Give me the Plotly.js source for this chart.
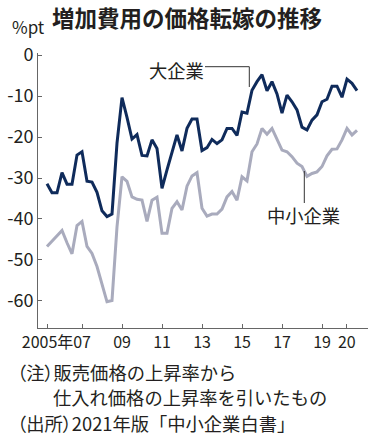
<!DOCTYPE html>
<html>
<head>
<meta charset="utf-8">
<script src="https://cdn.plot.ly/plotly-3.0.1.min.js"></script>
<style>
  html, body { margin: 0; padding: 0; background: #fff; }
  #chart { width: 379px; height: 440px; }
</style>
</head>
<body>
<div id="chart"></div>
<script>
// Quarterly periods (2005Q2 .. 2020Q4)
const periods = [
  "2005Q2","2005Q3","2005Q4",
  "2006Q1","2006Q2","2006Q3","2006Q4",
  "2007Q1","2007Q2","2007Q3","2007Q4",
  "2008Q1","2008Q2","2008Q3","2008Q4",
  "2009Q1","2009Q2","2009Q3","2009Q4",
  "2010Q1","2010Q2","2010Q3","2010Q4",
  "2011Q1","2011Q2","2011Q3","2011Q4",
  "2012Q1","2012Q2","2012Q3","2012Q4",
  "2013Q1","2013Q2","2013Q3","2013Q4",
  "2014Q1","2014Q2","2014Q3","2014Q4",
  "2015Q1","2015Q2","2015Q3","2015Q4",
  "2016Q1","2016Q2","2016Q3","2016Q4",
  "2017Q1","2017Q2","2017Q3","2017Q4",
  "2018Q1","2018Q2","2018Q3","2018Q4",
  "2019Q1","2019Q2","2019Q3","2019Q4",
  "2020Q1","2020Q2","2020Q3","2020Q4"
];

// 大企業 (%pt)
const largeFirms = [
  -31.4, -33.6, -33.6, -28.7, -31.5, -31.5, -24.4, -23.6, -30.8, -31.0,
  -33.5, -38.0, -39.4, -38.8, -21.5, -10.4, -15.2, -20.5, -19.4, -24.5,
  -24.6, -20.7, -22.8, -32.5, -28.0, -23.4, -19.5, -23.4, -17.9, -15.6,
  -15.6, -23.3, -22.6, -20.6, -21.6, -20.7, -17.9, -17.9, -19.6, -13.9,
  -14.2, -8.6, -6.5, -4.8, -8.7, -6.5, -9.5, -14.2, -9.8, -11.4,
  -13.4, -17.6, -18.3, -15.9, -14.6, -11.4, -10.8, -7.6, -7.6, -10.3,
  -5.9, -6.9, -8.7
];

// 中小企業 (%pt)
const smallFirms = [
  -46.7, -45.4, -44.1, -42.8, -45.8, -48.5, -41.6, -40.6, -46.7, -48.4,
  -51.6, -56.1, -60.2, -59.9, -41.9, -29.7, -30.8, -34.6, -35.2, -35.4,
  -40.6, -35.4, -34.7, -43.5, -43.5, -37.4, -35.8, -37.8, -32.0, -29.5,
  -28.7, -37.4, -39.3, -38.8, -38.8, -37.6, -34.6, -33.3, -35.4, -29.7,
  -30.7, -23.6, -21.7, -17.9, -19.3, -17.9, -20.5, -23.2, -23.6, -24.8,
  -26.4, -27.2, -29.6, -28.9, -28.5, -27.2, -24.6, -23.0, -22.9, -20.7,
  -17.9, -19.5, -18.4
];

// x tick labels
const xTickVals = [2005.28, 2007, 2009, 2011, 2013, 2015, 2017, 2019, 2020.24];
const xTickText = ["2005年", "07", "09", "11", "13", "15", "17", "19", "20"];
const yTickVals = [0, -10, -20, -30, -40, -50, -60];

// period label -> decimal year
const xs = periods.map(p => Number(p.slice(0, 4)) + (Number(p.slice(5)) - 1) / 4);

const JP = '"Noto Sans CJK JP", sans-serif';
const NUM = '"Liberation Sans Narrow", "Noto Sans CJK JP", sans-serif';
const TXT = '#231f20';

// layout geometry
const W = 379, H = 440, ML = 38, MR = 11, MT = 53, MB = 112;
const PW = W - ML - MR, PH = H - MT - MB;
const px = x => (x - ML) / PW;
const py = y => (MT + PH - y) / PH;

const traces = [
  { x: xs, y: smallFirms, type: 'scatter', mode: 'lines', name: '中小企業',
    line: { color: '#a9abbd', width: 3 }, hoverinfo: 'skip' },
  { x: xs, y: largeFirms, type: 'scatter', mode: 'lines', name: '大企業',
    line: { color: '#0f2b5b', width: 3 }, hoverinfo: 'skip' }
];

const axisCommon = {
  showline: true, linecolor: '#666', linewidth: 1,
  ticks: 'inside', ticklen: 4, tickwidth: 1, tickcolor: '#666',
  showgrid: false, zeroline: false, fixedrange: true,
  tickfont: { family: NUM, size: 18, color: TXT }
};

const layout = {
  width: W, height: H,
  margin: { l: ML, r: MR, t: MT, b: MB, pad: 0 },
  paper_bgcolor: '#fff', plot_bgcolor: '#fff',
  showlegend: false,
  font: { family: JP, color: TXT },
  title: {
    text: '増加費用の価格転嫁の推移',
    x: 52 / W, xref: 'container', xanchor: 'left',
    y: 1 - 19 / H, yref: 'container', yanchor: 'middle',
    font: { family: JP, size: 22.5, weight: 'bold', color: TXT }
  },
  xaxis: Object.assign({}, axisCommon, {
    range: [2004.8, 2004.8 + PW / 20],
    tickmode: 'array', tickvals: xTickVals, ticktext: xTickText,
    tickangle: 0,
    tickfont: { family: NUM, size: 16, color: TXT }
  }),
  yaxis: Object.assign({}, axisCommon, {
    range: [-66.59, 0.49],
    tickmode: 'array', tickvals: yTickVals,
    ticktext: yTickVals.map(String)
  }),
  shapes: [
    { type: 'line', xref: 'paper', yref: 'paper', x0: px(205), x1: px(249.3), y0: py(66.7), y1: py(66.7),
      line: { color: '#333', width: 1 } },
    { type: 'line', xref: 'paper', yref: 'paper', x0: px(249.3), x1: px(249.3), y0: py(66.7), y1: py(87),
      line: { color: '#333', width: 1 } },
    { type: 'line', xref: 'paper', yref: 'paper', x0: px(304.3), x1: px(304.3), y0: py(171), y1: py(203),
      line: { color: '#333', width: 1 } }
  ],
  annotations: [
    { text: '%pt', xref: 'paper', yref: 'paper', x: px(10), y: py(26), xanchor: 'left', yanchor: 'middle',
      showarrow: false, font: { family: JP, size: 17, color: TXT } },
    { text: '大企業', xref: 'paper', yref: 'paper', x: px(176), y: py(69.5), xanchor: 'center', yanchor: 'middle',
      showarrow: false, font: { family: JP, size: 18.3, color: TXT } },
    { text: '中小企業', xref: 'paper', yref: 'paper', x: px(303), y: py(215), xanchor: 'center', yanchor: 'middle',
      showarrow: false, font: { family: JP, size: 18.3, color: TXT } },
    { text: '<span style="font-feature-settings:\'palt\'">（注）</span>販売価格の上昇率から',
      xref: 'paper', yref: 'paper', x: px(15), y: py(372), xanchor: 'left', yanchor: 'middle',
      showarrow: false, font: { family: JP, size: 18.3, color: TXT } },
    { text: '仕入れ価格の上昇率を引いたもの',
      xref: 'paper', yref: 'paper', x: px(51), y: py(397), xanchor: 'left', yanchor: 'middle',
      showarrow: false, font: { family: JP, size: 18.3, color: TXT } },
    { text: '<span style="font-feature-settings:\'palt\'">（出所）</span>2021年版「中小企業白書」',
      xref: 'paper', yref: 'paper', x: px(15), y: py(423), xanchor: 'left', yanchor: 'middle',
      showarrow: false, font: { family: JP, size: 18.3, color: TXT } }
  ]
};

Plotly.newPlot('chart', traces, layout, { displayModeBar: false, staticPlot: true });
</script>
</body>
</html>
